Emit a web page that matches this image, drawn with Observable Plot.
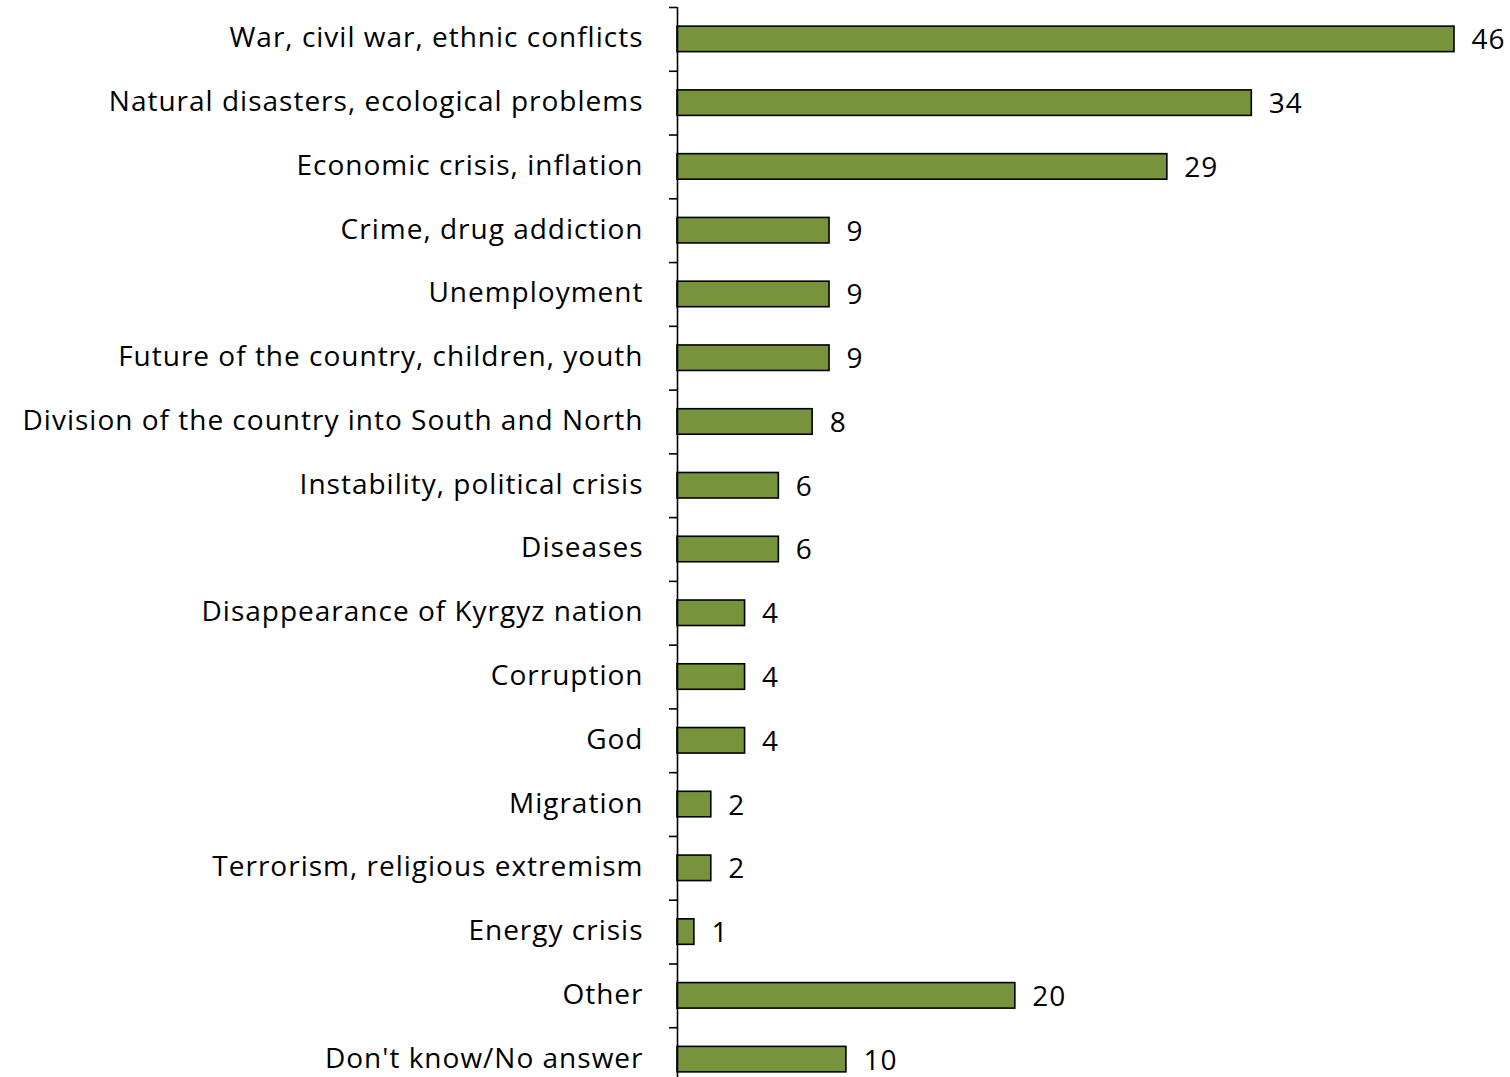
<!DOCTYPE html>
<html>
<head>
<meta charset="utf-8">
<script src="https://cdn.jsdelivr.net/npm/d3@7"></script>
<script src="https://cdn.jsdelivr.net/npm/@observablehq/plot@0.6"></script>
<style>
  html, body { margin: 0; padding: 0; background: #fff; }
  #chart svg { display: block; }
  #chart svg text { letter-spacing: 1px; }
</style>
</head>
<body>
<div id="chart"></div>
<script>
const categories = [
  "War, civil war, ethnic conflicts",
  "Natural disasters, ecological problems",
  "Economic crisis, inflation",
  "Crime, drug addiction",
  "Unemployment",
  "Future of the country, children, youth",
  "Division of the country into South and North",
  "Instability, political crisis",
  "Diseases",
  "Disappearance of Kyrgyz nation",
  "Corruption",
  "God",
  "Migration",
  "Terrorism, religious extremism",
  "Energy crisis",
  "Other",
  "Don't know/No answer"
];
const values = [46, 34, 29, 9, 9, 9, 8, 6, 6, 4, 4, 4, 2, 2, 1, 20, 10];

const data = categories.map((c, i) => ({category: c, value: values[i]}));

const yTop = 7, yBottom = 1091;
const step = (yBottom - yTop) / categories.length;
const font = "'Open Sans', Lato, sans-serif";
const pxPerUnit = 777 / 46;

const chart = Plot.plot({
  width: 1510,
  height: 1077,
  marginTop: 7,
  marginBottom: 0,
  marginLeft: 677,
  marginRight: 56,
  style: {fontFamily: font, fontSize: "28px", color: "#000", background: "#fff"},
  x: {domain: [0, 46], range: [677, 1454], axis: null},
  y: {domain: categories, range: [yTop, yBottom], paddingInner: 0.6, paddingOuter: 0.3, round: false, axis: null},
  marks: [
    Plot.barX(data, {
      x: "value", y: "category",
      fill: "#77933C", stroke: "#000", strokeWidth: 1.6
    }),
    Plot.text(data, {
      x: "value", y: "category", text: d => String(d.value),
      textAnchor: "start", dx: 17, dy: 1, fontSize: 28, fill: "#000"
    }),
    Plot.text(data, {
      x: 0, y: "category", text: "category",
      textAnchor: "end", dx: -34, dy: -1, fontSize: 28, fill: "#000"
    }),
    Plot.ruleY(data, {
      y: "category", x1: -8 / pxPerUnit, x2: 0, dy: -step / 2,
      stroke: "#000", strokeWidth: 1.6, clip: false
    }),
    Plot.ruleX([0], {stroke: "#000", strokeWidth: 1.6})
  ]
});
document.getElementById("chart").appendChild(chart);
</script>
</body>
</html>
